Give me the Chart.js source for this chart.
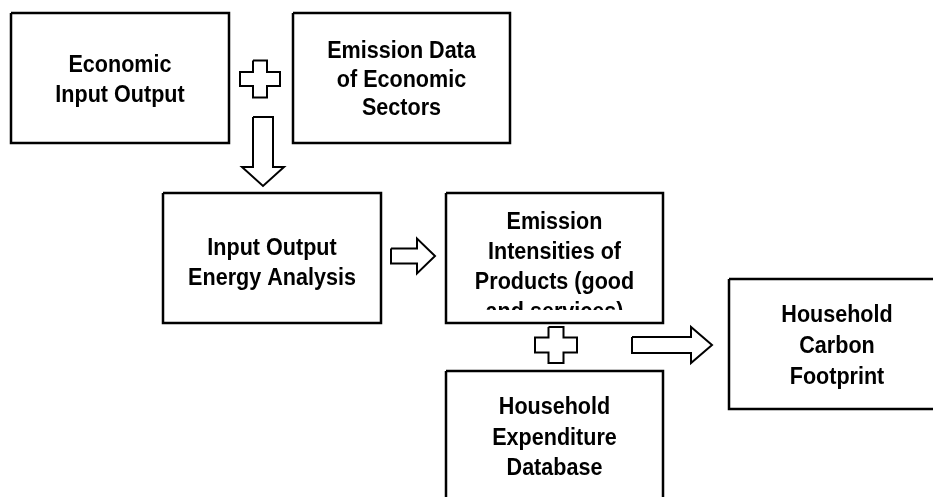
<!DOCTYPE html>
<html>
<head>
<meta charset="utf-8">
<script src="https://cdn.jsdelivr.net/npm/chart.js"></script>
<style>
  html, body { margin: 0; padding: 0; background: #fff; }
  #wrap { width: 933px; height: 497px; }
</style>
</head>
<body>
<div id="wrap"><canvas id="flow" width="933" height="497"></canvas></div>
<script>
// boxes: [left, top, right, bottom] in diagram units (same as page px)
const boxRects = [
    [11, 13, 229, 143],
    [293, 13, 510, 143],
    [163, 193, 381, 323],
    [446, 193, 663, 323],
    [446, 371, 663, 530],
    [729, 279, 950, 409]
];
const boxLabels = [
    ['Economic', 'Input Output'],
    ['Emission Data', 'of Economic', 'Sectors'],
    ['Input Output', 'Energy Analysis'],
    ['Emission', 'Intensities of', 'Products (good', 'and services)'],
    ['Household', 'Expenditure', 'Database'],
    ['Household', 'Carbon', 'Footprint']
];
const labelCenterX = [120, 401.5, 272, 554.5, 554.5, 837];
const labelCenterY = [78, 78, 261, 265, 436, 344];
const lineHeights = [30, 28.5, 30, 30, 30.5, 31];
// text in box 4 is cut off before the border
const labelClipBottom = [null, null, null, 310, null, null];

// arrows: [startX, startY, tip, shaftHalf, headHalf, headLen, direction]
const arrows = [
    [263, 117, 186, 10, 21, 19, 'down'],
    [391, 256, 435, 7.5, 17.5, 18, 'right'],
    [632, 345, 712, 8, 18, 21, 'right']
];
// plus signs: [centerX, centerY, halfW, halfH, armHalf]
const pluses = [
    [260, 79, 20, 18.5, 7],
    [556, 345, 21, 18, 7.5]
];

function rectPoints(r) {
    return [
        {x: r[0], y: r[1]}, {x: r[2], y: r[1]},
        {x: r[2], y: r[3]}, {x: r[0], y: r[3]}, {x: r[0], y: r[1]}
    ];
}

function arrowPoints(a) {
    const [sx, sy, tip, sh, hh, hl, dir] = a;
    const hb = tip - hl;
    if (dir === 'down') {
        return [
            {x: sx - sh, y: sy}, {x: sx + sh, y: sy}, {x: sx + sh, y: hb},
            {x: sx + hh, y: hb}, {x: sx, y: tip}, {x: sx - hh, y: hb},
            {x: sx - sh, y: hb}, {x: sx - sh, y: sy}
        ];
    }
    return [
        {x: sx, y: sy - sh}, {x: hb, y: sy - sh}, {x: hb, y: sy - hh},
        {x: tip, y: sy}, {x: hb, y: sy + hh}, {x: hb, y: sy + sh},
        {x: sx, y: sy + sh}, {x: sx, y: sy - sh}
    ];
}

function plusPoints(p) {
    const [cx, cy, w, h, a] = p;
    return [
        {x: cx - a, y: cy - h}, {x: cx + a, y: cy - h}, {x: cx + a, y: cy - a},
        {x: cx + w, y: cy - a}, {x: cx + w, y: cy + a}, {x: cx + a, y: cy + a},
        {x: cx + a, y: cy + h}, {x: cx - a, y: cy + h}, {x: cx - a, y: cy + a},
        {x: cx - w, y: cy + a}, {x: cx - w, y: cy - a}, {x: cx - a, y: cy - a},
        {x: cx - a, y: cy - h}
    ];
}

function shape(points, width) {
    return {
        data: points,
        showLine: true,
        fill: false,
        tension: 0,
        borderColor: '#000',
        borderWidth: width,
        borderJoinStyle: 'miter',
        pointRadius: 0,
        pointHoverRadius: 0
    };
}

const datasets = [];
boxRects.forEach(r => datasets.push(shape(rectPoints(r), 2.5)));
arrows.forEach(a => datasets.push(shape(arrowPoints(a), 2)));
pluses.forEach(p => datasets.push(shape(plusPoints(p), 2)));

// 框内文字 (字体略微纵向拉伸)
const labelPlugin = {
    id: 'boxLabels',
    afterDatasetsDraw(chart) {
        const ctx = chart.ctx;
        const xs = chart.scales.x, ys = chart.scales.y;
        ctx.save();
        ctx.fillStyle = '#000';
        ctx.font = 'bold 22px "Liberation Sans", Arial, sans-serif';
        ctx.textAlign = 'center';
        ctx.textBaseline = 'alphabetic';
        boxLabels.forEach((lines, i) => {
            ctx.save();
            if (labelClipBottom[i] !== null) {
                const r = boxRects[i];
                const top = ys.getPixelForValue(r[1]);
                ctx.beginPath();
                ctx.rect(xs.getPixelForValue(r[0]), top,
                    xs.getPixelForValue(r[2]) - xs.getPixelForValue(r[0]),
                    ys.getPixelForValue(labelClipBottom[i]) - top);
                ctx.clip();
            }
            const lh = lineHeights[i];
            const first = labelCenterY[i] - lh * (lines.length - 1) / 2;
            lines.forEach((t, k) => {
                const x = xs.getPixelForValue(labelCenterX[i]);
                const y = ys.getPixelForValue(first + k * lh) + 8.7;
                ctx.save();
                ctx.translate(x, y);
                ctx.scale(0.98, 1.1);
                ctx.fillText(t, 0, 0);
                ctx.restore();
            });
            ctx.restore();
        });
        ctx.restore();
    }
};

new Chart(document.getElementById('flow'), {
    type: 'scatter',
    data: {datasets: datasets},
    options: {
        responsive: false,
        animation: false,
        devicePixelRatio: 1,
        layout: {padding: 0},
        plugins: {legend: {display: false}, tooltip: {enabled: false}},
        events: [],
        scales: {
            x: {type: 'linear', min: 0, max: 933, display: false},
            y: {type: 'linear', min: 0, max: 497, reverse: true, display: false}
        }
    },
    plugins: [labelPlugin]
});
</script>
</body>
</html>
